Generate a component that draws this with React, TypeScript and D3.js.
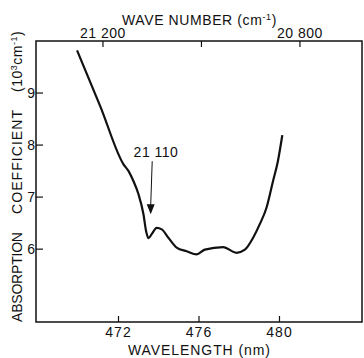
import React from "react";
import * as d3 from "d3";

// absorption spectrum
const wavelength = [
  469.94, 471.1, 472.25, 472.5, 472.74, 472.99, 473.24, 473.37,
  473.49, 473.65, 473.9, 474.15, 474.48, 474.89, 475.39, 475.88, 476.29, 477.2,
  477.86, 478.28, 478.69, 479.02, 479.35, 479.68, 479.92, 480.14,
];
const absorption = [
  9.82, 8.74, 7.63, 7.5, 7.31, 7.06, 6.67, 6.35,
  6.21, 6.29, 6.41, 6.38, 6.22, 6.03, 5.96, 5.9, 5.99, 6.04,
  5.93, 5.99, 6.22, 6.48, 6.79, 7.31, 7.69, 8.19,
];

const xTicks = [472, 476, 480];
const yTicks = [6, 7, 8, 9];
const waveTicks = [21200, 21000, 20800];
const waveLabels = [21200, 20800];
const arrowAt = { lambda: 473.6, from: 7.69, to: 6.67, label: "21 110" };

const W = 364;
const H = 358;
const left = 36;
const right = 362;
const top = 41;
const bottom = 322;
const font = "'Liberation Sans', Arial, sans-serif";

const fmtSpace = (v: number) => {
  const s = String(v);
  return s.slice(0, 2) + " " + s.slice(2);
};

export default function App() {
  const x = d3.scaleLinear().domain([467.9, 484.1]).range([left, right]);
  const y = d3.scaleLinear().domain([4.6, 10]).range([bottom, top]);
  const xw = d3.scaleLinear().domain([21336, 20674]).range([left, right]);

  const pts = wavelength.map((l, i) => [l, absorption[i]] as [number, number]);
  const line = d3
    .line<[number, number]>()
    .x((d) => x(d[0]))
    .y((d) => y(d[1]))
    .curve(d3.curveMonotoneX);

  const ax = x(arrowAt.lambda);
  const ay0 = y(arrowAt.from);
  const ay1 = y(arrowAt.to);

  return (
    <svg
      width={W}
      height={H}
      style={{ position: "absolute", left: 0, top: 0, background: "#fff" }}
      fontFamily={font}
    >
      <rect
        x={left}
        y={top}
        width={right - left}
        height={bottom - top}
        fill="none"
        stroke="#111"
        strokeWidth={1.5}
      />

      {xTicks.map((t) => (
        <g key={"x" + t}>
          <line x1={x(t)} x2={x(t)} y1={bottom} y2={bottom - 6} stroke="#111" strokeWidth={1.2} />
          <text x={x(t)} y={337} textAnchor="middle" fontSize={14} fill="#111" letterSpacing={1}>
            {t}
          </text>
        </g>
      ))}
      <text x={199} y={355} textAnchor="middle" fontSize={14} fill="#111" textLength={142} lengthAdjust="spacing">
        WAVELENGTH (nm)
      </text>

      {waveTicks.map((t) => (
        <line key={"w" + t} x1={xw(t)} x2={xw(t)} y1={top} y2={top + 6} stroke="#111" strokeWidth={1.2} />
      ))}
      {waveLabels.map((t) => (
        <text key={"wl" + t} x={xw(t)} y={38} textAnchor="middle" fontSize={14} fill="#111" letterSpacing={0.5}>
          {fmtSpace(t)}
        </text>
      ))}
      <text x={122} y={25} fontSize={14} fill="#111" letterSpacing={0.6}>
        WAVE NUMBER (cm
        <tspan fontSize={9} dy={-5}>-1</tspan>
        <tspan dy={5}>)</tspan>
      </text>

      {yTicks.map((t) => (
        <g key={"y" + t}>
          <line x1={left} x2={left + 7} y1={y(t)} y2={y(t)} stroke="#111" strokeWidth={1.2} />
          <text x={35} y={y(t) + 5} textAnchor="end" fontSize={14} fill="#111">
            {t}
          </text>
        </g>
      ))}
      <g transform="translate(22,0)" fill="#111" fontSize={14}>
        <text transform="translate(0,277) rotate(-90)" textAnchor="middle" textLength={90} lengthAdjust="spacing">
          ABSORPTION
        </text>
        <text transform="translate(0,162) rotate(-90)" textAnchor="middle" textLength={104} lengthAdjust="spacing">
          COEFFICIENT
        </text>
        <text transform="translate(0,92) rotate(-90)" letterSpacing={0.5}>
          (10
          <tspan fontSize={9} dy={-5}>3</tspan>
          <tspan dy={5}>cm</tspan>
          <tspan fontSize={9} dy={-5}>-1</tspan>
          <tspan dy={5}>)</tspan>
        </text>
      </g>

      <path d={line(pts) ?? ""} fill="none" stroke="#111" strokeWidth={2.2} strokeLinejoin="round" />

      <line x1={ax + 1.5} y1={ay0} x2={ax} y2={ay1 - 9} stroke="#111" strokeWidth={1} />
      <path
        d={`M${ax - 4},${ay1 - 10} L${ax + 4},${ay1 - 10} L${ax},${ay1} Z`}
        fill="#111"
      />
      <text x={156} y={157} textAnchor="middle" fontSize={14} fill="#111" letterSpacing={0.5}>
        {arrowAt.label}
      </text>
    </svg>
  );
}
